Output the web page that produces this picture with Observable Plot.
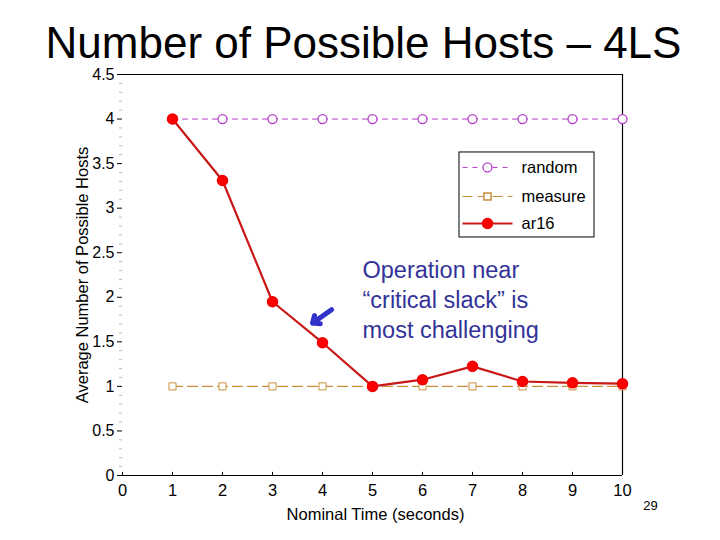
<!DOCTYPE html>
<html>
<head>
<meta charset="utf-8">
<script src="https://cdn.jsdelivr.net/npm/d3@7"></script>
<script src="https://cdn.jsdelivr.net/npm/@observablehq/plot@0.6"></script>
<style>
  html, body { margin: 0; padding: 0; background: #fff; }
  #wrap { width: 720px; height: 540px; position: relative; overflow: hidden; }
  #title { box-sizing: border-box; height: 70px; padding-top: 23px; padding-left: 7px; font: 44px/40px "Liberation Sans", Arial, sans-serif; text-align: center; color: #000; white-space: nowrap; }
  svg { display: block; }
</style>
</head>
<body>
<div id="wrap">
  <div id="title">Number of Possible Hosts – 4LS</div>
  <div id="chart"></div>
</div>
<script>
const times = [1, 2, 3, 4, 5, 6, 7, 8, 9, 10];
const randomVals = [4, 4, 4, 4, 4, 4, 4, 4, 4, 4];
const measureVals = [1, 1, 1, 1, 1, 1, 1, 1, 1, 1];
const ar16Vals = [4, 3.31, 1.95, 1.49, 1.0, 1.075, 1.225, 1.055, 1.04, 1.03];
const xTicks = [0, 1, 2, 3, 4, 5, 6, 7, 8, 9, 10];
const yTicks = [0, 0.5, 1, 1.5, 2, 2.5, 3, 3.5, 4, 4.5];
const seriesNames = ["random", "measure", "ar16"];
const annotationText = "Operation near\n“critical slack” is\nmost challenging";
const yLabel = "Average Number of Possible Hosts";
const xLabel = "Nominal Time (seconds)";
const pageNumber = "29";

const colors = { random: "#b43cc8", measure: "#c8903c", ar16: "#d81c1c" };

const randomData = times.map((t, i) => ({ t, v: randomVals[i] }));
const measureData = times.map((t, i) => ({ t, v: measureVals[i] }));
const ar16Data = times.map((t, i) => ({ t, v: ar16Vals[i] }));
const minorY = d3.range(0, 45).map(i => i / 10).filter(v => Math.abs(v * 2 - Math.round(v * 2)) > 1e-6);

const legendRows = seriesNames.map((name, i) => ({ name, y: [3.457, 3.131, 2.828][i] }));

const font = "Liberation Sans, Arial, sans-serif";

const chart = Plot.plot({
  width: 720,
  height: 470,
  marginLeft: 122,
  marginRight: 98,
  marginTop: 4,
  marginBottom: 65,
  style: { fontFamily: font, fontSize: "16px", color: "#000", background: "#fff", overflow: "visible" },
  x: { domain: [0, 10] },
  y: { domain: [0, 4.5] },
  marks: [
    Plot.axisY({ ticks: minorY, tickSize: 3, tickFormat: () => "", stroke: "#bbb", label: null }),
    Plot.axisY({ ticks: yTicks, tickSize: 5, tickPadding: 3, tickFormat: d => String(d), label: null, fontSize: 16 }),
    Plot.axisX({ ticks: xTicks, tickSize: 0, tickPadding: 9, label: null, fontSize: 16.5 }),
    Plot.ruleX(xTicks, { x: d => d, y1: 0, y2: 0.035, stroke: "#000" }),
    Plot.ruleY([0, 4.5], { stroke: "#000", strokeWidth: 1.2 }),
    Plot.ruleX([10], { stroke: "#000", strokeWidth: 1.2 }),
    Plot.line(randomData, { x: "t", y: "v", stroke: colors.random, strokeWidth: 1, strokeDasharray: "5,5" }),
    Plot.dot(randomData, { x: "t", y: "v", r: 4.5, stroke: colors.random, fill: "#fff", strokeWidth: 1.3 }),
    Plot.line(measureData, { x: "t", y: "v", stroke: colors.measure, strokeWidth: 1.2, strokeDasharray: "10,5" }),
    Plot.dot(measureData, { x: "t", y: "v", symbol: "square", r: 4, stroke: colors.measure, fill: "#fff", strokeWidth: 1 }),
    Plot.line(ar16Data, { x: "t", y: "v", stroke: "#c81818", strokeWidth: 2.2 }),
    Plot.dot(ar16Data, { x: "t", y: "v", r: 5, fill: "#ff0000", stroke: "#ee0000" }),
    Plot.text([annotationText], { x: 4.8, y: 2.455, text: d => d, textAnchor: "start", lineAnchor: "top", lineHeight: 1.28, fontSize: 23.5, fill: "#333399" }),
    Plot.arrow([{ x1: 4.18, y1: 1.86, x2: 3.8, y2: 1.71 }], { x1: "x1", y1: "y1", x2: "x2", y2: "y2", stroke: "#3333cc", strokeWidth: 5, headLength: 9, headAngle: 80 }),
    Plot.rect([{ a: 6.74, b: 9.44, c: 2.671, d: 3.625 }], { x1: "a", x2: "b", y1: "c", y2: "d", fill: "#fff", stroke: "#000", strokeWidth: 1 }),
    Plot.link([legendRows[0]], { x1: 6.8, x2: 7.8, y1: "y", y2: "y", stroke: colors.random, strokeDasharray: "5,5", strokeWidth: 1 }),
    Plot.dot([legendRows[0]], { x: 7.3, y: "y", r: 4.5, stroke: colors.random, fill: "#fff", strokeWidth: 1.3 }),
    Plot.link([legendRows[1]], { x1: 6.8, x2: 7.8, y1: "y", y2: "y", stroke: colors.measure, strokeDasharray: "10,5", strokeWidth: 1.2 }),
    Plot.dot([legendRows[1]], { x: 7.3, y: "y", symbol: "square", r: 4, stroke: colors.measure, fill: "#fff" }),
    Plot.link([legendRows[2]], { x1: 6.8, x2: 7.8, y1: "y", y2: "y", stroke: "#c81818", strokeWidth: 2.2 }),
    Plot.dot([legendRows[2]], { x: 7.3, y: "y", r: 5, fill: "#ff0000", stroke: "#ee0000" }),
    Plot.text(legendRows, { x: 7.98, y: "y", text: "name", textAnchor: "start", fontSize: 16.5, fill: "#000" }),
    Plot.text([yLabel], { frameAnchor: "left", dx: -40, rotate: -90, textAnchor: "middle", lineAnchor: "middle", text: d => d, fontSize: 16.5, fill: "#000" }),
    Plot.text([xLabel], { frameAnchor: "bottom", dx: 3, dy: 39, textAnchor: "middle", lineAnchor: "middle", text: d => d, fontSize: 16.5, fill: "#000" }),
    Plot.text([pageNumber], { frameAnchor: "bottom-right", dx: 28, dy: 30, textAnchor: "middle", lineAnchor: "middle", text: d => d, fontSize: 13, fill: "#000" })
  ]
});
document.getElementById("chart").appendChild(chart);
</script>
</body>
</html>
